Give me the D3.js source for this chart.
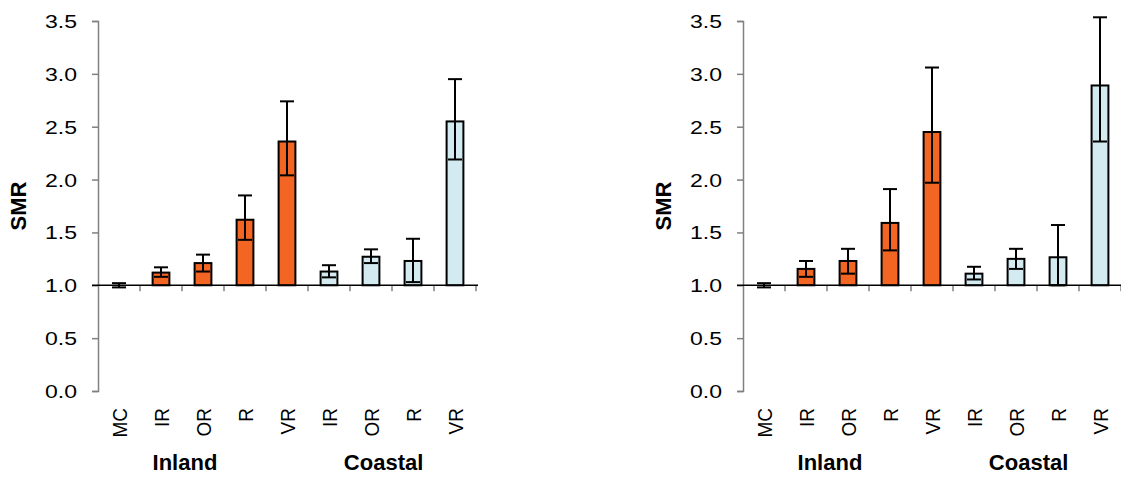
<!DOCTYPE html>
<html>
<head>
<meta charset="utf-8">
<script src="https://cdn.jsdelivr.net/npm/d3@7"></script>
<style>
  body { margin: 0; background: #fff; }
  svg { display: block; }
  text { font-family: "Liberation Sans", Arial, sans-serif; fill: #000; }
  .ytick { font-size: 18px; }
  .xcat { font-size: 19px; }
  .grp { font-size: 22px; font-weight: bold; }
  .ttl { font-size: 22px; font-weight: bold; }
</style>
</head>
<body>
<svg id="chart" width="1121" height="477"></svg>
<script>
// ---- data ----
const categories = ["MC", "IR", "OR", "R", "VR", "IR", "OR", "R", "VR"];
const groupOf = ["Inland", "Inland", "Inland", "Inland", "Inland", "Coastal", "Coastal", "Coastal", "Coastal"];
const groupLabels = ["Inland", "Coastal"];
const yTicks = [0, 0.5, 1.0, 1.5, 2.0, 2.5, 3.0, 3.5];
const axisLabel = "SMR";

const leftSMR   = [1.00, 1.12, 1.21, 1.62, 2.36, 1.13, 1.27, 1.23, 2.55];
const leftLower = [0.98, 1.08, 1.13, 1.43, 2.04, 1.075, 1.21, 1.03, 2.19];
const leftUpper = [1.02, 1.17, 1.29, 1.85, 2.74, 1.19, 1.34, 1.44, 2.95];

const rightSMR   = [1.00, 1.155, 1.23, 1.59, 2.45, 1.11, 1.25, 1.265, 2.89];
const rightLower = [0.98, 1.08, 1.11, 1.33, 1.97, 1.055, 1.155, 1.00, 2.36];
const rightUpper = [1.02, 1.23, 1.345, 1.91, 3.06, 1.175, 1.345, 1.57, 3.535];

const colors = { Inland: "#F26522", Coastal: "#D3EBF0" };

const svg = d3.select("#chart");

function drawPanel(offsetX, smr, lower, upper) {
  const g = svg.append("g").attr("transform", `translate(${offsetX},0)`);
  const x0 = 98, x1 = 476;
  const y = d3.scaleLinear().domain([0, 3.5]).range([391, 21]);
  const idx = categories.map((d, i) => i);
  const x = d3.scaleBand().domain(idx).range([x0, x1]).paddingInner(0.6).paddingOuter(0.3);
  const step = x.step();
  const base = y(1.0);

  // y axis
  const yAxis = d3.axisLeft(y).tickValues(yTicks).tickSize(6).tickPadding(0)
    .tickFormat(d3.format(".1f"));
  const ya = g.append("g").attr("transform", `translate(${x0},0)`).call(yAxis);
  ya.attr("font-size", null).attr("font-family", null);
  ya.select(".domain").attr("stroke", "#808080").attr("stroke-width", 1.5);
  ya.selectAll(".tick line").attr("stroke", "#808080").attr("stroke-width", 1.5);
  ya.selectAll(".tick text")
    .attr("class", "ytick")
    .attr("x", 0)
    .attr("dy", "0.36em")
    .attr("transform", "translate(-21,0) scale(1.28,1)")
    .attr("fill", "#000");

  // x tick marks at category boundaries
  const bounds = idx.map(i => x(i) + x.bandwidth() / 2 + step / 2);
  g.append("g").selectAll("line").data(bounds).join("line")
    .attr("x1", d => d).attr("x2", d => d)
    .attr("y1", base).attr("y2", base + 6)
    .attr("stroke", "#808080").attr("stroke-width", 1.5);

  // bars (from baseline 1.0)
  g.append("g").selectAll("rect").data(idx.filter(i => smr[i] !== 1)).join("rect")
    .attr("x", i => x(i))
    .attr("width", x.bandwidth())
    .attr("y", i => Math.min(y(smr[i]), base))
    .attr("height", i => Math.abs(base - y(smr[i])))
    .attr("fill", i => colors[groupOf[i]])
    .attr("stroke", "#000").attr("stroke-width", 2);

  // x axis line at 1.0
  g.append("line").attr("x1", x0 - 6).attr("x2", x1 + 2)
    .attr("y1", base).attr("y2", base)
    .attr("stroke", "#000").attr("stroke-width", 1.5);

  // error bars
  const cap = 14;
  const eb = g.append("g").attr("stroke", "#000").attr("stroke-width", 2);
  idx.forEach(i => {
    const cx = x(i) + x.bandwidth() / 2;
    eb.append("line").attr("x1", cx).attr("x2", cx).attr("y1", y(lower[i])).attr("y2", y(upper[i]));
    eb.append("line").attr("x1", cx - cap / 2).attr("x2", cx + cap / 2).attr("y1", y(upper[i])).attr("y2", y(upper[i]));
    eb.append("line").attr("x1", cx - cap / 2).attr("x2", cx + cap / 2).attr("y1", y(lower[i])).attr("y2", y(lower[i]));
  });

  // category labels (rotated)
  g.append("g").selectAll("text").data(idx).join("text")
    .attr("class", "xcat")
    .attr("transform", i => `translate(${x(i) + x.bandwidth() / 2},408) rotate(-90) scale(1,1.1)`)
    .attr("text-anchor", "end")
    .attr("dy", "0.36em")
    .text(i => categories[i]);

  // group labels
  const groupCenters = { Inland: 2.07, Coastal: 6.8 };
  g.append("g").selectAll("text").data(groupLabels).join("text")
    .attr("class", "grp")
    .attr("x", d => x0 + groupCenters[d] * step)
    .attr("y", 470)
    .attr("text-anchor", "middle")
    .text(d => d);

  // y axis title
  g.append("text")
    .attr("class", "ttl")
    .attr("transform", `translate(${x0 - 72},${(y(0) + y(3.5)) / 2}) rotate(-90)`)
    .attr("text-anchor", "middle")
    .text(axisLabel);
}

drawPanel(0, leftSMR, leftLower, leftUpper);
drawPanel(645, rightSMR, rightLower, rightUpper);
</script>
</body>
</html>
